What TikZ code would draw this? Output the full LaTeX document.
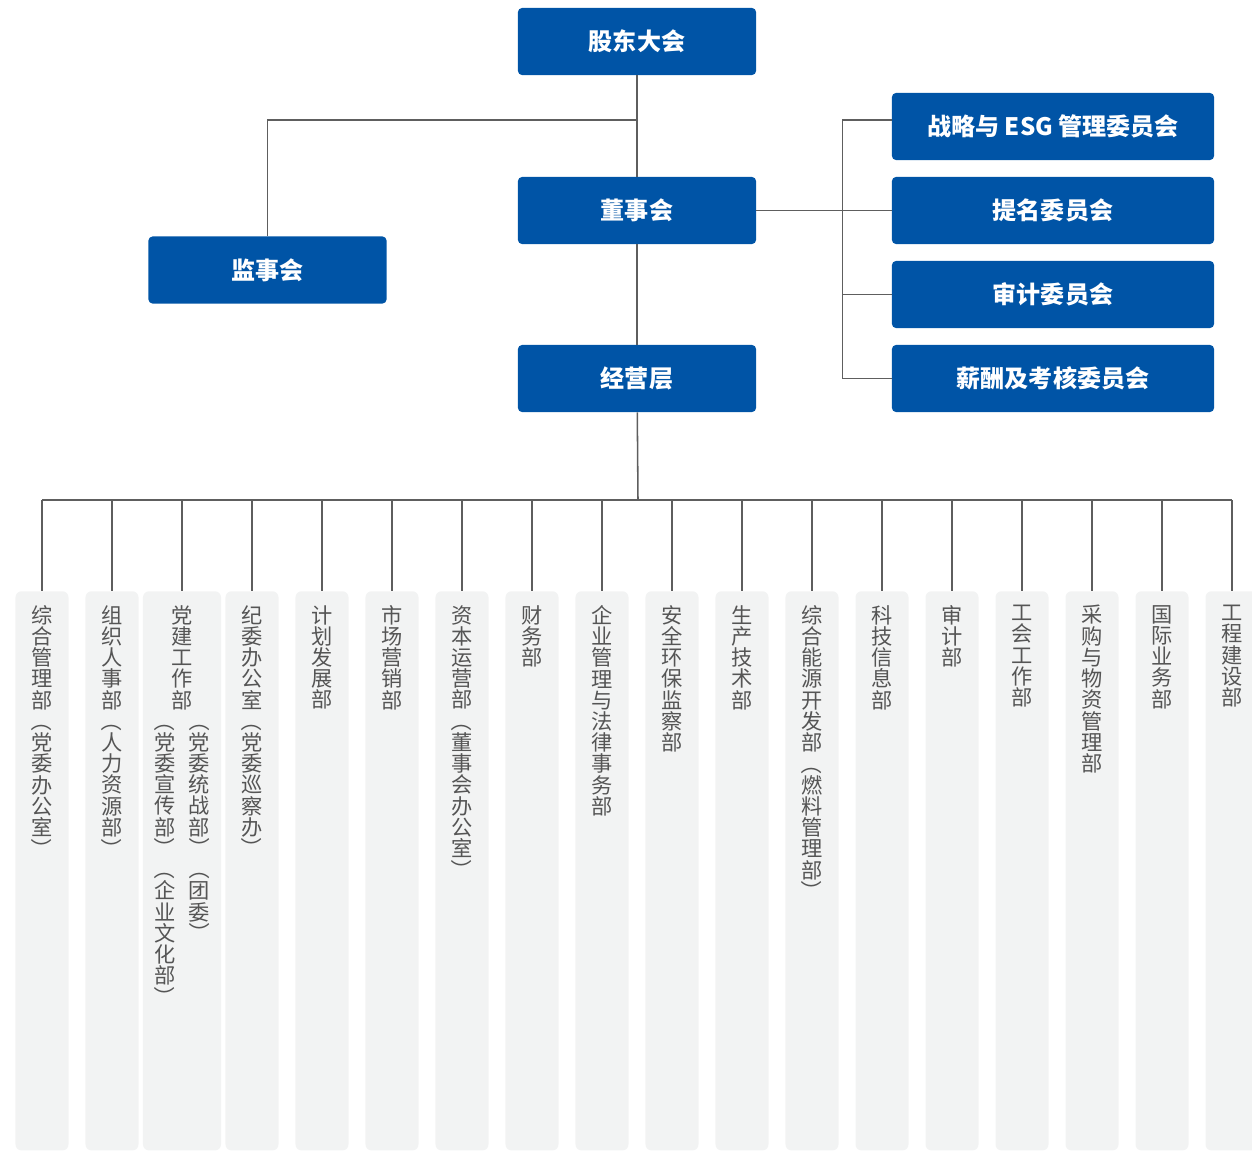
\documentclass[tikz,border=0pt]{standalone}
\usepackage{fontspec}
\setmainfont{Noto Sans CJK SC}
\usepackage{graphicx}
\usetikzlibrary{positioning,calc}

\definecolor{boardblue}{HTML}{0054A6}
\definecolor{deptgray}{HTML}{F2F3F3}
\definecolor{linegray}{HTML}{5E5E5E}
\definecolor{deptink}{HTML}{555555}

% rotated brackets for vertical text
\NewDocumentCommand\vlp{}{\raisebox{0.88em}[0.88em][0.12em]{\rotatebox{-90}{（}}}
\NewDocumentCommand\vrp{}{\raisebox{0.88em}[0.88em][0.12em]{\rotatebox{-90}{）}}}

% stack the characters of a text one below the other
\ExplSyntaxOn
\tl_new:N \l__vt_src_tl
\tl_new:N \l__vt_out_tl
\NewDocumentCommand \vtext { m }
  {
    \tl_set:Nx \l__vt_src_tl {#1}
    \tl_clear:N \l__vt_out_tl
    \tl_map_inline:Nn \l__vt_src_tl
      {
        \tl_if_empty:NF \l__vt_out_tl { \tl_put_right:Nn \l__vt_out_tl { \\ } }
        \tl_put_right:Nn \l__vt_out_tl {##1}
      }
    \tl_use:N \l__vt_out_tl
  }
\ExplSyntaxOff

\begin{document}
\begin{tikzpicture}[
        x=0.025cm, y=-0.025cm,
        lead/.style={rectangle, fill=boardblue, text=white, font=\bfseries\fontsize{17.1pt}{20pt}\selectfont, minimum width=5.95cm, minimum height=1.675cm, rounded corners=0.1cm, inner sep=0pt},
        cmte/.style={lead, minimum width=8.05cm},
        deptbox/.style={rectangle, fill=deptgray, rounded corners=0.15cm, minimum height=13.975cm, anchor=north, inner sep=0pt},
        depttext/.style={anchor=north, inner sep=0pt, align=center, text=deptink, font=\fontsize{15.1pt}{15.1pt}\selectfont},
        conn/.style={draw=linegray, line width=1.1pt}
    ]
        \useasboundingbox (0,0) rectangle (1252,1151);

        % Governance
        \node[lead] (gudong) at (637,41.5) {股东大会};
        \node[lead] (dongshi) at (637,210.5) {董事会};
        \node[lead] (jingying) at (637,378.5) {经营层};
        \node[lead] (jianshi) at (267.5,270) {监事会};

        % Board committees
        \node[cmte] (zhanlue) at (1053,126.5) {战略与 ESG 管理委员会};
        \node[cmte] (timing) at (1053,210.5) {提名委员会};
        \node[cmte] (shenji) at (1053,294.5) {审计委员会};
        \node[cmte] (xinchou) at (1053,378.5) {薪酬及考核委员会};

        \coordinate (split) at (638,120);
        \coordinate (bus) at (638,500);

        % Departments
        \foreach \i/\w/\deptname in {1/1.325cm/综合管理部\vlp 党委办公室\vrp,
                2/1.325cm/组织人事部\vlp 人力资源部\vrp,
                3/1.95cm/党建工作部,
                4/1.325cm/纪委办公室\vlp 党委巡察办\vrp,
                5/1.325cm/计划发展部,
                6/1.325cm/市场营销部,
                7/1.325cm/资本运营部\vlp 董事会办公室\vrp,
                8/1.325cm/财务部,
                9/1.325cm/企业管理与法律事务部,
                10/1.325cm/安全环保监察部,
                11/1.325cm/生产技术部,
                12/1.325cm/综合能源开发部\vlp 燃料管理部\vrp,
                13/1.325cm/科技信息部,
                14/1.325cm/审计部,
                15/1.325cm/工会工作部,
                16/1.325cm/采购与物资管理部,
                17/1.325cm/国际业务部,
                18/1.325cm/工程建设部}{
            \node[deptbox, minimum width=\w] (dept\i) at ({42+70*(\i-1)},591) {};
            \node[depttext] (dtext\i) at ([yshift=-0.35cm]dept\i.north) {\vtext{\deptname}};
        }
        \node[depttext] (dtext3r) at ([xshift=0.43cm]dtext3.south) {\vtext{\vlp 党委统战部\vrp\vlp 团委\vrp}};
        \node[depttext] (dtext3l) at ([xshift=-0.43cm]dtext3.south) {\vtext{\vlp 党委宣传部\vrp\vlp 企业文化部\vrp}};

        % Connectors
        \draw[conn] (gudong) -- (dongshi);
        \draw[conn] (dongshi) -- (jingying);
        \draw[conn] (jingying) -- (bus);
        \draw[conn] (split) -| (jianshi);
        \draw[conn] (dongshi) -- (timing);
        \draw[conn] (zhanlue.west |- split) -- ++(-49,0) |- (xinchou.west);
        \draw[conn] (shenji.west) -- ++(-49,0);
        \draw[conn] (dept1.north |- bus) -- (dept18.north |- bus);
        \foreach \i in {1,...,18}
            \draw[conn] (dept\i.north |- bus) -- (dept\i.north);

    \end{tikzpicture}
\end{document}
